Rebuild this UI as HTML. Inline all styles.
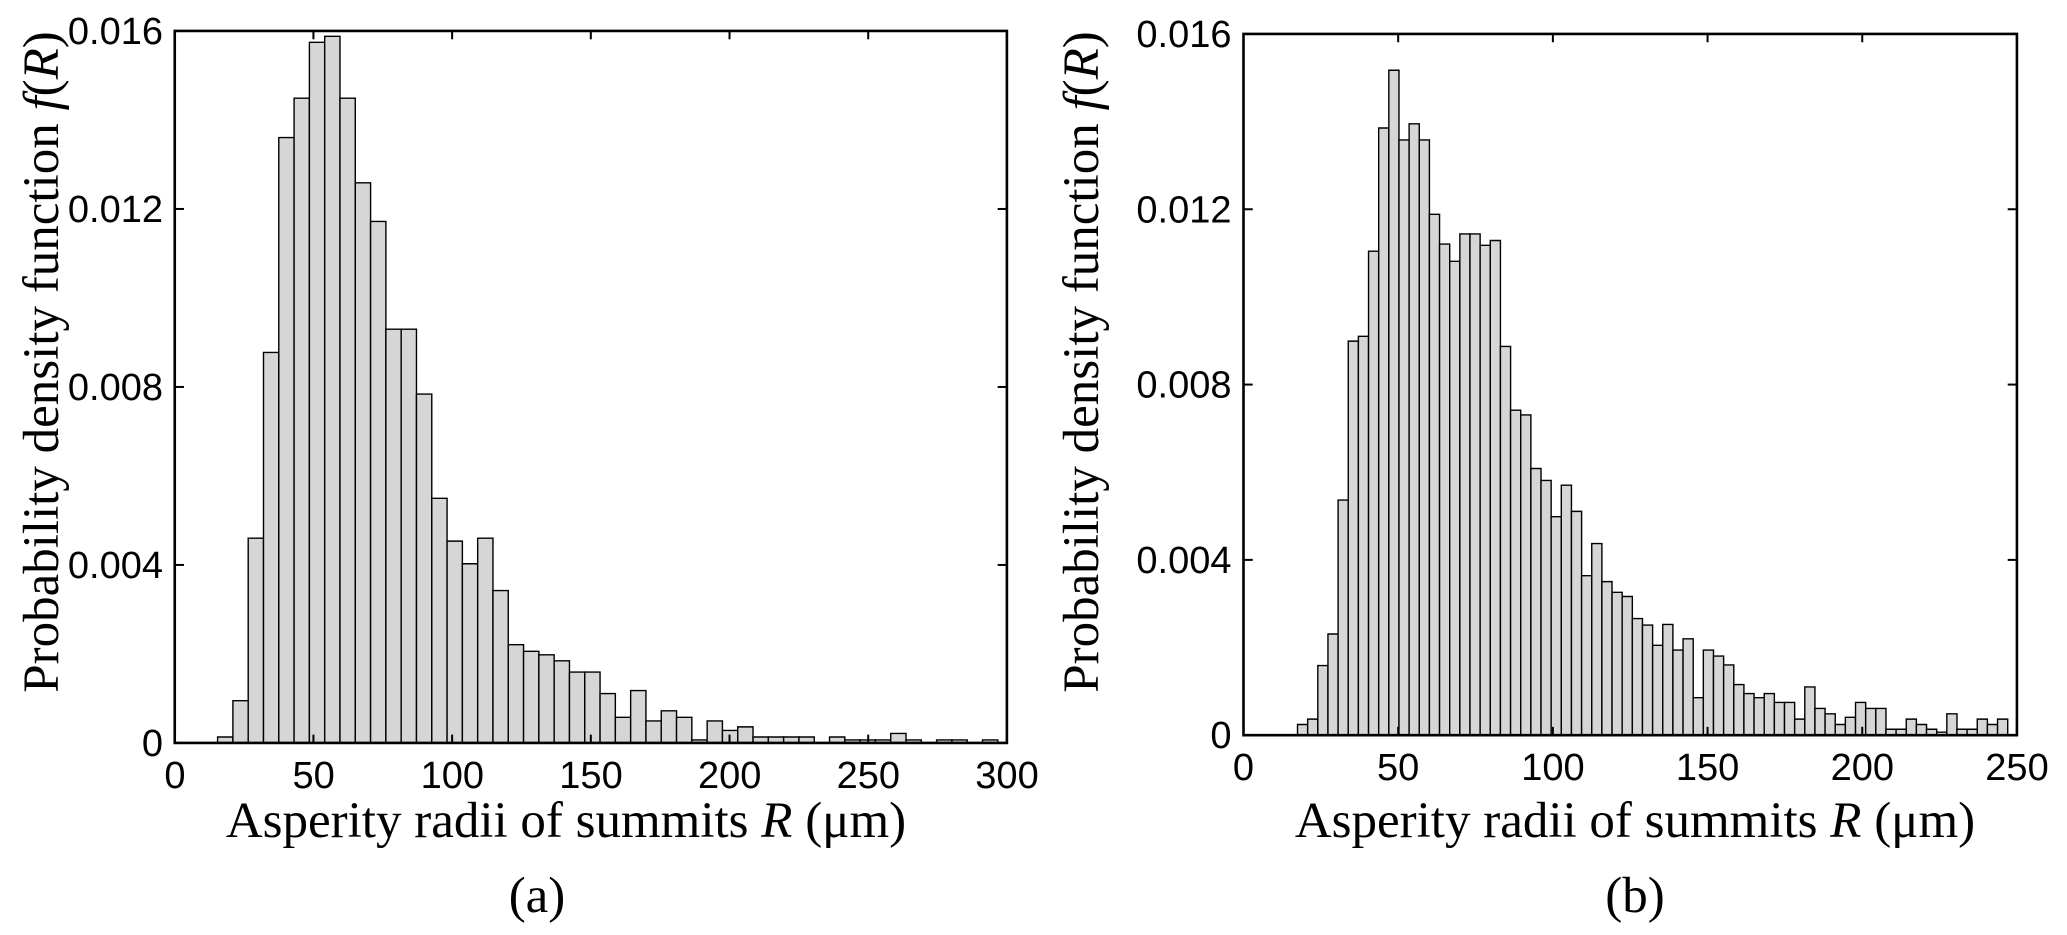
<!DOCTYPE html><html><head><style>body{margin:0;background:#fff;overflow:hidden}svg{display:block}</style></head><body>
<svg id="s" width="2067" height="935" xmlns="http://www.w3.org/2000/svg">
<g id="L" transform="translate(0,1.2) scale(0.6594,0.5953)"></g>
<g id="R" transform="translate(1034,1.2) scale(0.6588,0.5953)"></g>
<g id="T"></g>
</svg>
<script>
const NS="http://www.w3.org/2000/svg";
function el(p,t,a,txt){const e=document.createElementNS(NS,t);for(const k in a)e.setAttribute(k,a[k]);if(txt!==undefined)e.textContent=txt;p.appendChild(e);return e;}
const T=document.getElementById('T');
const ns={'vector-effect':'non-scaling-stroke'};
function panel(g,o){
 const {x0,x1,y0,y1,xmax,xticks,bx,bw,tops,A}=o;
 tops.forEach((t,i)=>{if(t<y0-0.5)el(g,'rect',Object.assign({x:bx+i*bw,y:t,width:bw,height:y0-t,fill:'#d6d6d6',stroke:'#000','stroke-width':1.4},ns));});
 el(g,'rect',Object.assign({x:x0,y:y1,width:x1-x0,height:y0-y1,fill:'none',stroke:'#000','stroke-width':2.6},ns));
 xticks.forEach(v=>{const x=x0+(x1-x0)*v/xmax;
  el(g,'line',Object.assign({x1:x,x2:x,y1:y0,y2:y0-14,stroke:'#000','stroke-width':2},ns));
  el(g,'line',Object.assign({x1:x,x2:x,y1:y1,y2:y1+14,stroke:'#000','stroke-width':2},ns));});
 for(let i=0;i<5;i++){const y=y0-(y0-y1)*i/4;
  el(g,'line',Object.assign({x1:x0,x2:x0+14,y1:y,y2:y,stroke:'#000','stroke-width':2},ns));
  el(g,'line',Object.assign({x1:x1,x2:x1-14,y1:y,y2:y,stroke:'#000','stroke-width':2},ns));}
 const ts={'font-family':'Liberation Sans, Arial, sans-serif','font-size':38};
 xticks.forEach(v=>{const x=A.x0+(A.x1-A.x0)*v/xmax;
  el(T,'text',Object.assign({x:x,y:A.y0+45,'text-anchor':'middle'},ts),v);});
 ['0','0.004','0.008','0.012','0.016'].forEach((l,i)=>{const y=A.y0-(A.y0-A.y1)*i/4;
  el(T,'text',Object.assign({x:A.x0-12,y:y+13,'text-anchor':'end'},ts),l);});
 const tf={'font-family':'Liberation Serif, Times New Roman, serif','font-size':51};
 const yl=el(T,'text',Object.assign({x:0,y:0,'text-anchor':'middle',transform:`translate(${A.ylx},${A.yly}) rotate(-90)`},tf));
 yl.innerHTML='Probability density function <tspan font-style="italic">f</tspan>(<tspan font-style="italic">R</tspan>)';
 const xl=el(T,'text',Object.assign({x:A.xlx,y:837,'text-anchor':'middle'},tf));
 xl.innerHTML='Asperity radii of summits <tspan font-style="italic">R</tspan> (μm)';
 el(T,'text',Object.assign({x:A.capx,y:912,'text-anchor':'middle'},tf),A.cap);
}
panel(document.getElementById('L'),{x0:265,x1:1527,y0:1246,y1:50,xmax:300,xticks:[0,50,100,150,200,250,300],bx:330,bw:23.2,
 tops:[1236,1175,902,590,229,163,69,59,163,305,370,551,551,660,835,907,945,902,990,1081,1092,1098,1108,1127,1127,1163,1203,1158,1209,1192,1203,1241,1209,1225,1219,1236,1236,1236,1236,1246,1236,1241,1241,1241,1230,1241,1246,1241,1241,1246,1241],
 A:{x0:175,x1:1007,y0:743,y1:31,ylx:58,yly:362,xlx:566,cap:'(a)',capx:537}});
panel(document.getElementById('R'),{x0:318,x1:1492,y0:1233,y1:55,xmax:250,xticks:[0,50,100,150,200,250],bx:400,bw:15.4,
 tops:[1215,1206,1116,1063,838,571,563,420,213,116,233,206,233,358,408,437,391,391,410,402,580,687,695,785,805,866,813,857,965,911,975,993,1000,1037,1048,1082,1047,1090,1071,1170,1090,1100,1115,1148,1163,1170,1163,1178,1178,1206,1152,1188,1197,1215,1203,1178,1188,1188,1223,1223,1206,1215,1223,1228,1197,1223,1223,1206,1215,1206],
 A:{x0:1243.5,x1:2017,y0:735,y1:34,ylx:1098,yly:362,xlx:1635,cap:'(b)',capx:1635}});
</script>
</body></html>
